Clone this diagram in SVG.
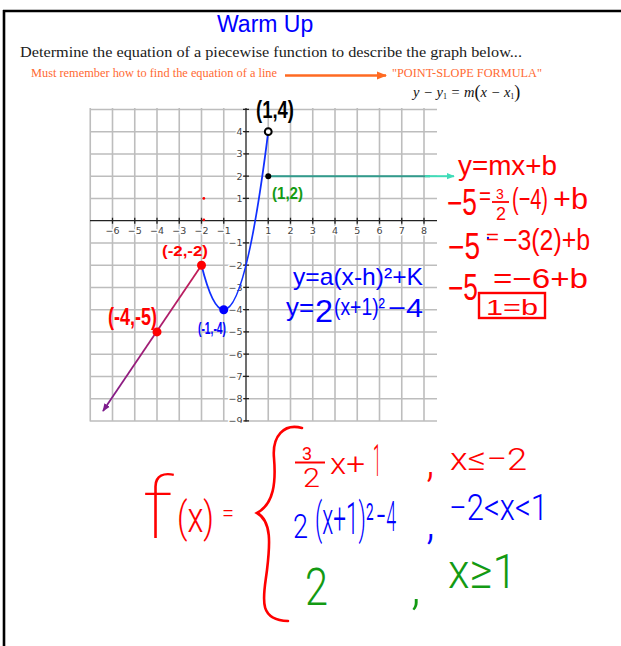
<svg xmlns="http://www.w3.org/2000/svg" width="621" height="646" viewBox="0 0 621 646">
<style>
.grid{stroke:#bdbdbd;stroke-width:1.6;fill:none}
.axis{stroke:#222;stroke-width:1.3;fill:none}
.tl{font-family:"DejaVu Sans","Liberation Sans",sans-serif;font-size:9.5px;fill:#444;stroke:#fff;stroke-width:3;paint-order:stroke;stroke-linejoin:round}
.hw{font-family:"Liberation Sans",Arial,sans-serif}
.hl{font-family:Roboto,"Noto Sans","Liberation Sans",sans-serif}
.r{fill:#ff0000}
.b{fill:#0000ff}
.g{fill:#139a13}
.k{fill:#000}
.bold{font-weight:bold}
.serif{font-family:"Liberation Serif","Times New Roman",serif}
</style>
<defs>
<marker id="arrO" viewBox="0 0 10 10" refX="9" refY="5" markerWidth="4" markerHeight="4" orient="auto"><path d="M0,1 L10,5 L0,9 z" fill="#ff6a22"/></marker>
<marker id="arrT" viewBox="0 0 10 10" refX="9" refY="5" markerWidth="4" markerHeight="4" orient="auto"><path d="M0,1 L10,5 L0,9 z" fill="#40dcb8"/></marker>
<marker id="arrP" viewBox="0 0 10 10" refX="9" refY="5" markerWidth="4.5" markerHeight="4.5" orient="auto"><path d="M0,1 L10,5 L0,9 z" fill="#7d1c8c"/></marker>
<linearGradient id="pg" gradientUnits="userSpaceOnUse" x1="201.5" y1="265.2" x2="102" y2="412"><stop offset="0" stop-color="#c41d55"/><stop offset="0.45" stop-color="#a81e70"/><stop offset="1" stop-color="#7d1c8c"/></linearGradient>
<clipPath id="gclip"><rect x="80" y="100" width="370" height="323"/></clipPath>
</defs>

<g id="frame">
<line x1="3" y1="11" x2="621" y2="11" stroke="#000" stroke-width="2.6"/>
<line x1="4" y1="10" x2="4" y2="646" stroke="#000" stroke-width="2.6"/>
</g>

<g id="header">
<text x="217" y="32" class="hw" font-size="23" fill="#0000ff">Warm Up</text>
<text x="20" y="57" class="serif" font-size="15.5" fill="#1a1a1a" textLength="502" lengthAdjust="spacingAndGlyphs">Determine the equation of a piecewise function to describe the graph below...</text>
<text x="31" y="77" class="serif" font-size="12.5" fill="#ff6a33" textLength="246" lengthAdjust="spacingAndGlyphs">Must remember how to find the equation of a line</text>
<line x1="285" y1="75.5" x2="386" y2="75.5" stroke="#ff6a22" stroke-width="2.6" marker-end="url(#arrO)"/>
<text x="392" y="77" class="serif" font-size="12.5" fill="#ff6a33" textLength="150" lengthAdjust="spacingAndGlyphs">"POINT-SLOPE FORMULA"</text>
<text x="413" y="97" class="serif" font-size="14.5" fill="#111" font-style="italic">y − y<tspan font-size="8" font-style="normal" dy="2">1</tspan><tspan dy="-2"> = m</tspan><tspan font-size="18" font-style="normal" dy="1">(</tspan><tspan dy="-1">x − x</tspan><tspan font-size="8" font-style="normal" dy="2">1</tspan><tspan font-size="18" font-style="normal" dy="-1">)</tspan></text>
</g>

<g id="plot" clip-path="url(#gclip)">
<path class="grid" d="M90.25,108V421.5M112.5,108V421.5M134.75,108V421.5M157,108V421.5M179.25,108V421.5M201.5,108V421.5M223.75,108V421.5M268.25,108V421.5M290.5,108V421.5M312.75,108V421.5M335,108V421.5M357.25,108V421.5M379.5,108V421.5M401.75,108V421.5M424,108V421.5
M90,109.45H437M90,131.7H437M90,153.95H437M90,176.2H437M90,198.45H437M90,242.95H437M90,265.2H437M90,287.45H437M90,309.7H437M90,331.95H437M90,354.2H437M90,376.45H437M90,398.7H437M90,420.95H437"/>
<path class="axis" d="M90,220.7H437M246,108V421.5"/>
<path class="axis" d="M112.5,217.7v6M134.75,217.7v6M157,217.7v6M179.25,217.7v6M201.5,217.7v6M223.75,217.7v6M268.25,217.7v6M290.5,217.7v6M312.75,217.7v6M335,217.7v6M357.25,217.7v6M379.5,217.7v6M401.75,217.7v6M424,217.7v6
M243,109.45h6M243,131.7h6M243,153.95h6M243,176.2h6M243,198.45h6M243,242.95h6M243,265.2h6M243,287.45h6M243,309.7h6M243,331.95h6M243,354.2h6M243,376.45h6M243,398.7h6M243,420.95h6"/>
<g class="tl" text-anchor="middle">
<text x="112.5" y="234">−6</text><text x="134.75" y="234">−5</text><text x="157" y="234">−4</text><text x="179.25" y="234">−3</text><text x="201.5" y="234">−2</text><text x="223.75" y="234">−1</text>
<text x="268.25" y="234">1</text><text x="290.5" y="234">2</text><text x="312.75" y="234">3</text><text x="335" y="234">4</text><text x="357.25" y="234">5</text><text x="379.5" y="234">6</text><text x="401.75" y="234">7</text><text x="424" y="234">8</text>
</g>
<g class="tl" text-anchor="end">
<text x="242.5" y="135.2">4</text><text x="242.5" y="157.4">3</text><text x="242.5" y="179.7">2</text><text x="242.5" y="201.9">1</text>
<text x="242.5" y="246.4">−1</text><text x="242.5" y="268.7">−2</text><text x="242.5" y="290.9">−3</text><text x="242.5" y="313.2">−4</text><text x="242.5" y="335.4">−5</text><text x="242.5" y="357.7">−6</text><text x="242.5" y="379.9">−7</text><text x="242.5" y="402.2">−8</text><text x="242.5" y="424.4">−9</text>
</g>
</g>

<g id="curves">
<line x1="201.5" y1="265.2" x2="103" y2="411" stroke="url(#pg)" stroke-width="1.8" marker-end="url(#arrP)"/>
<path d="M201.5,265.2 Q212.6,309.7 223.75,309.7 Q246,309.7 268.25,131.7" fill="none" stroke="#1030ff" stroke-width="1.8"/>
<line x1="268.25" y1="176.2" x2="430" y2="176.2" stroke="#319b8c" stroke-width="2"/>
<line x1="425" y1="176.2" x2="454" y2="176.2" stroke="#40dcb8" stroke-width="2" marker-end="url(#arrT)"/>
</g>

<g id="points">
<circle cx="268.25" cy="131.7" r="3.4" fill="#fff" stroke="#000" stroke-width="2"/>
<circle cx="268.25" cy="176.2" r="3" fill="#000"/>
<circle cx="201.5" cy="265.2" r="4.5" fill="#ff0000"/>
<circle cx="157" cy="331.9" r="4.5" fill="#ff0000"/>
<circle cx="223.75" cy="309.7" r="4.5" fill="#0000ff"/>
<circle cx="203.8" cy="198.4" r="1.4" fill="#ff0000"/>
<circle cx="203.8" cy="219.8" r="1.4" fill="#ff0000"/>
<circle cx="488" cy="238" r="1.2" fill="#0000ff"/>
</g>

<g id="point-labels" class="hw bold">
<text x="256" y="118" font-size="24" class="k" textLength="38" lengthAdjust="spacingAndGlyphs">(1,4)</text>
<text x="272" y="199" font-size="17" class="g" textLength="31" lengthAdjust="spacingAndGlyphs">(1,2)</text>
<text x="162" y="256" font-size="15" class="r" textLength="46" lengthAdjust="spacingAndGlyphs">(-2,-2)</text>
<text x="108" y="325" font-size="24" class="r" textLength="49" lengthAdjust="spacingAndGlyphs">(-4,-5)</text>
<text x="198" y="334" font-size="16" class="b" textLength="28" lengthAdjust="spacingAndGlyphs">(-1,-4)</text>
</g>

<g id="vertex-form">
<text class="hw b" font-size="24"><tspan x="293" y="285" textLength="130" lengthAdjust="spacingAndGlyphs">y=a(x-h)²+K</tspan><tspan x="286" y="316" font-size="26" textLength="28" lengthAdjust="spacingAndGlyphs">y=</tspan><tspan x="315" y="322" font-size="32" textLength="18" lengthAdjust="spacingAndGlyphs">2</tspan><tspan x="334" y="315" font-size="24" textLength="51" lengthAdjust="spacingAndGlyphs">(x+1)²</tspan><tspan x="388" y="317" font-size="26" textLength="35" lengthAdjust="spacingAndGlyphs">−4</tspan></text>
</g>

<g id="slope-work">
<text class="hw r" font-size="28"><tspan x="458" y="175" textLength="99" lengthAdjust="spacingAndGlyphs">y=mx+b</tspan><tspan x="447" y="215" font-size="36" textLength="30" lengthAdjust="spacingAndGlyphs">−5</tspan><tspan x="479" y="204" font-size="24" textLength="12" lengthAdjust="spacingAndGlyphs">=</tspan><tspan x="496" y="199" font-size="14">3</tspan><tspan x="496" y="220" font-size="18">2</tspan><tspan x="512" y="209" font-size="30" textLength="36" lengthAdjust="spacingAndGlyphs">(−4)</tspan><tspan x="553" y="209" font-size="30" textLength="35" lengthAdjust="spacingAndGlyphs">+b</tspan><tspan x="448" y="259" font-size="36" textLength="32" lengthAdjust="spacingAndGlyphs">−5</tspan><tspan x="486" y="244" font-size="20" textLength="13" lengthAdjust="spacingAndGlyphs">=</tspan><tspan x="503" y="250" font-size="30" textLength="87" lengthAdjust="spacingAndGlyphs">−3(2)+b</tspan><tspan x="448" y="300" font-size="36" textLength="30" lengthAdjust="spacingAndGlyphs">−5</tspan><tspan x="493" y="288" font-size="28" textLength="95" lengthAdjust="spacingAndGlyphs">=−6+b</tspan><tspan x="486" y="315" font-size="22" textLength="52" lengthAdjust="spacingAndGlyphs">1=b</tspan></text>
<line x1="492" y1="202" x2="509" y2="202" stroke="#ff0000" stroke-width="1.8"/>
<rect x="479" y="293" width="66" height="25" fill="none" stroke="#ff0000" stroke-width="2.4"/>
</g>

<g id="piecewise">
<path d="M302,428 C284,423 272,436 274,458 C276,482 274,504 257,513 C272,521 270,545 267,570 C264,595 256,620 288,621" fill="none" stroke="#ff0000" stroke-width="2.6" stroke-linecap="round"/>
<line x1="295" y1="462.5" x2="325" y2="462.5" stroke="#ff0000" stroke-width="2"/>
<text class="hl" font-weight="300"><tspan x="142" y="538" font-size="86" font-weight="100" fill="#ff0000" textLength="31" lengthAdjust="spacingAndGlyphs">f</tspan><tspan x="177" y="532" font-size="42" fill="#ff0000" textLength="37" lengthAdjust="spacingAndGlyphs">(x)</tspan><tspan x="222" y="522" font-size="26" fill="#ff0000" textLength="12" lengthAdjust="spacingAndGlyphs">=</tspan><tspan x="302" y="460" font-size="18" font-weight="400" fill="#ff0000">3</tspan><tspan x="303" y="487" font-size="26" fill="#ff0000" textLength="17" lengthAdjust="spacingAndGlyphs">2</tspan><tspan x="330" y="474" font-size="30" fill="#ff0000" textLength="35" lengthAdjust="spacingAndGlyphs">x+</tspan><tspan x="373" y="476" font-size="44" fill="#ff0000" textLength="8" lengthAdjust="spacingAndGlyphs">1</tspan><tspan x="426" y="476" font-size="44" fill="#ff0000">,</tspan><tspan x="450" y="470" font-size="32" fill="#ff0000" textLength="77" lengthAdjust="spacingAndGlyphs">x≤−2</tspan><tspan x="293" y="538" font-size="34" fill="#0000ff" textLength="15" lengthAdjust="spacingAndGlyphs">2</tspan><tspan x="315" y="534" font-size="44" fill="#0000ff" textLength="59" lengthAdjust="spacingAndGlyphs">(x+1)²</tspan><tspan x="376" y="531" font-size="42" fill="#0000ff" textLength="20" lengthAdjust="spacingAndGlyphs">−4</tspan><tspan x="426" y="538" font-size="46" fill="#0000ff">,</tspan><tspan x="449" y="520" font-size="36" fill="#0000ff" textLength="99" lengthAdjust="spacingAndGlyphs">−2&lt;x&lt;1</tspan><tspan x="305" y="605" font-size="52" fill="#139a13" textLength="23" lengthAdjust="spacingAndGlyphs">2</tspan><tspan x="411" y="604" font-size="50" fill="#139a13">,</tspan><tspan x="448" y="588" font-size="48" fill="#139a13" textLength="69" lengthAdjust="spacingAndGlyphs">x≥1</tspan></text>
</g>
</svg>
